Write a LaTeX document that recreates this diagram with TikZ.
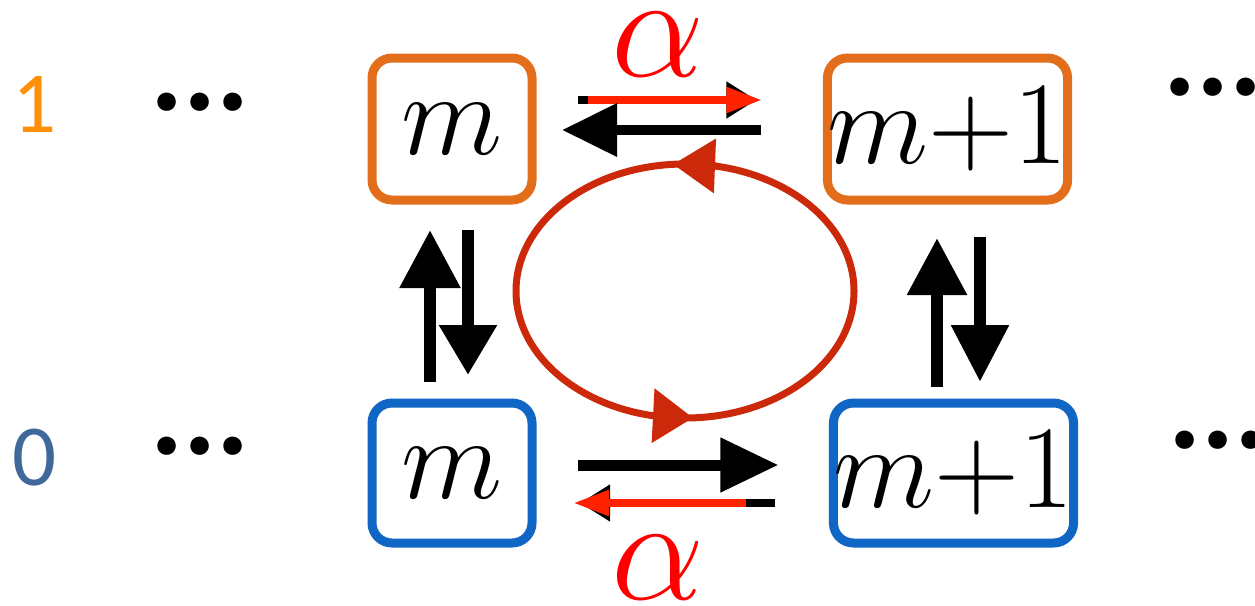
\RequirePackage{fix-cm}
\documentclass[tikz,border=0pt]{standalone}
\usepackage{fontspec}
\newfontfamily\calib{Carlito}
\usetikzlibrary{arrows.meta}
\definecolor{boxor}{RGB}{226,110,28}
\definecolor{boxbl}{RGB}{15,102,196}
\definecolor{loopred}{RGB}{204,40,10}
\definecolor{arrred}{RGB}{255,34,0}
\definecolor{alpred}{RGB}{255,0,0}
\definecolor{lblor}{RGB}{255,144,10}
\definecolor{lblbl}{RGB}{65,104,154}
\tikzset{
  stbox/.style={draw, rounded corners=20pt, line width=9pt, minimum height=142pt, inner sep=0pt,
    font=\fontsize{118}{118}\selectfont},
  obox/.style={stbox, draw=boxor},
  bbox/.style={stbox, draw=boxbl},
  thinblk/.style={line width=8pt, black, -{Triangle[length=30pt,width=35pt]}},
  thinred/.style={line width=8pt, arrred, -{Triangle[length=36pt,width=24pt]}},
  vert/.style={line width=12pt, black},
  loopc/.style={line width=7pt, loopred},
  alab/.style={text=alpred, font=\fontsize{148}{148}\selectfont, inner sep=0pt},
  dots/.style={anchor=base west, inner sep=0pt, font=\calib\bfseries\fontsize{124}{124}\selectfont},
  lvl/.style={inner sep=0pt, font=\calib\fontsize{87}{87}\selectfont}
}
\begin{document}
\begin{tikzpicture}[x=1pt,y=-1pt]
\useasboundingbox (0,0) rectangle (1255,605);

% boxes
\node[obox, minimum width=160pt] (tl) at (452,129) {$m$};
\node[obox, minimum width=239pt] (tr) at (947.5,129) {$m{+}1$};
\node[bbox, minimum width=160pt, minimum height=140pt] (bl) at (452,473) {$m$};
\node[bbox, minimum width=237pt, minimum height=140pt] (br) at (953.5,473) {$m{+}1$};

% level labels and dots
\node[lvl, text=lblor] (l1) at (35,105) {1};
\node[lvl, text=lblbl] (l0) at (35,458) {0};
\node[dots] (dtl) at (150,110) {...};
\node[dots] (dbl) at (150,454) {...};
\node[dots] (dtr) at (1163,95) {...};
\node[dots] (dbr) at (1168,448) {...};

% top horizontal arrows
\draw[thinblk, shorten <=41.5pt, shorten >=66.5pt] ([yshift=29pt]tl.east) -- ([yshift=29pt]tr.west);
\draw[thinred, shorten <=51.5pt, shorten >=60.5pt] ([yshift=29pt]tl.east) -- ([yshift=29pt]tr.west);
\draw[line width=10pt, -{Triangle[length=55pt,width=51pt]}, shorten <=61.5pt, shorten >=25.5pt]
  ([yshift=-1pt]tr.west) -- ([yshift=-1pt]tl.east);

% bottom horizontal arrows
\draw[line width=11pt, -{Triangle[length=58pt,width=52pt]}, shorten <=41.5pt, shorten >=50.5pt]
  ([yshift=8pt]bl.east) -- ([yshift=8pt]br.west);
\draw[thinblk, shorten <=53.5pt, shorten >=43.5pt] ([yshift=-30pt]br.west) -- ([yshift=-30pt]bl.east);
\draw[thinred, shorten <=82.5pt, shorten >=36.5pt] ([yshift=-30pt]br.west) -- ([yshift=-30pt]bl.east);

% alpha labels
\node[alab] (atop) at (658,45) {$\alpha$};
\node[alab] (abot) at (658,568) {$\alpha$};

% vertical arrows left
\draw[vert, -{Triangle[length=58pt,width=58pt]}, shorten <=16.5pt, shorten >=25.5pt]
  ([xshift=-22pt]bl.north) -- ([xshift=-22pt]tl.south);
\draw[vert, -{Triangle[length=50pt,width=55pt]}, shorten <=25.5pt, shorten >=23.5pt]
  ([xshift=16pt]tl.south) -- ([xshift=16pt]bl.north);

% vertical arrows right
\coordinate (ru) at (937,300);
\coordinate (rd) at (980,300);
\draw[vert, -{Triangle[length=57pt,width=57pt]}, shorten <=11.5pt, shorten >=33.5pt]
  (ru |- br.north) -- (ru |- tr.south);
\draw[vert, -{Triangle[length=57pt,width=55pt]}, shorten <=32.5pt, shorten >=16.5pt]
  (rd |- tr.south) -- (rd |- br.north);

% cycle
\draw[loopc] (685,291) ellipse [x radius=169pt, y radius=127pt];
\draw[loopc, -{Triangle[length=42pt,width=53pt]}] (716,166) -- (673,164.3);
\draw[loopc, -{Triangle[length=40pt,width=53pt]}] (653,415.7) -- (693,417.8);
\end{tikzpicture}
\end{document}
